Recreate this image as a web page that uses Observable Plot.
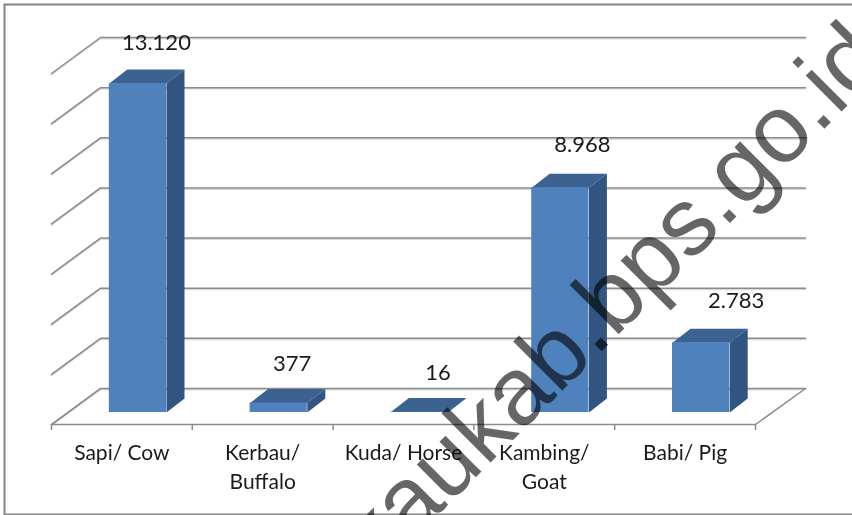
<!DOCTYPE html>
<html><head><meta charset="utf-8">
<style>html,body{margin:0;padding:0;background:#fff}svg{display:block;filter:blur(0.45px)}</style>
<script src="https://cdn.jsdelivr.net/npm/d3@7"></script>
<script src="https://cdn.jsdelivr.net/npm/@observablehq/plot@0.6"></script>
</head><body><div id="chart"></div>
<script>
const categories = ["Sapi/ Cow", "Kerbau/\nBuffalo", "Kuda/ Horse", "Kambing/\nGoat", "Babi/ Pig"];
const values = [13120, 377, 16, 8968, 2783];
const valueLabels = ["13.120", "377", "16", "8.968", "2.783"];
const yTicks = [0, 2000, 4000, 6000, 8000, 10000, 12000, 14000];
const watermark = "kaukab.bps.go.id";

// scale factors and oblique projection helpers (pixels to data units)
const W = 852, H = 515;
const xR = [51, 755], yR = [412, 61], yMax = 14000;
const ux = (xR[1] - xR[0]) / 5, uy = yMax / (yR[0] - yR[1]);
const ox = p => p / ux, oy = p => p * uy;

const bars = values.map((v, i) => ({i, v, label: valueLabels[i], c: i + 0.5 + ox(16)}));
const hw = ox(28.6), dX = ox(18), dY = oy(14);
const poly = (id, pts) => pts.map(([x, y]) => ({id, x, y}));
const sides = bars.flatMap(b => poly(b.i, [[b.c + hw, 0], [b.c + hw + dX, dY], [b.c + hw + dX, b.v + dY], [b.c + hw, b.v]]));
const tops = bars.flatMap(b => poly(b.i, [[b.c - hw, b.v], [b.c + hw, b.v], [b.c + hw + dX, b.v + dY], [b.c - hw + dX, b.v + dY]]));

const backL = ox(49), backR = 5 + ox(50), frontY = oy(-12), backY = oy(24);
const wall = yTicks.flatMap(v => poly(v, [[0, v + frontY], [backL, v + backY], [backR, v + backY]]));
const floorLine = poly("f", [[backL, backY], [0, frontY], [5, frontY], [backR, backY]]);

const nudgeX = [ox(18.5), ox(13.5), ox(18.5), ox(22), ox(35)];
const nudgeY = [oy(41), oy(39), oy(39), oy(43), oy(42)];
const font = "Lato, Carlito, Calibri, sans-serif";
const gridColor = "#8b8b8b";

const chart = Plot.plot({
  width: W, height: H,
  marginTop: 0, marginLeft: 0, marginRight: 0, marginBottom: 91,
  style: {background: "#fff", fontFamily: font},
  x: {domain: [0, 5], range: xR},
  y: {domain: [0, yMax], range: yR, axis: null},
  marks: [
    Plot.frame({stroke: "#868686", strokeWidth: 2, insetTop: 4, insetLeft: 4, insetRight: -6, insetBottom: -90}),
    Plot.line(wall, {x: "x", y: "y", z: "id", stroke: "#d9d9d9", strokeWidth: 1.5, dy: 1.2}),
    Plot.line(wall, {x: "x", y: "y", z: "id", stroke: gridColor, strokeWidth: 1.5}),
    Plot.line(floorLine, {x: "x", y: "y", stroke: gridColor, strokeWidth: 1.5}),
    Plot.axisX({ticks: [0, 1, 2, 3, 4, 5], tickFormat: () => "", tickSize: 6, stroke: gridColor, strokeWidth: 1.5, label: null}),
    Plot.axisX({ticks: [0.5, 1.5, 2.5, 3.5, 4.5], tickFormat: d => categories[Math.floor(d)], tickSize: 0, tickPadding: 15, fontSize: 21, lineHeight: 1.38, fill: "#1a1a1a", label: null}),
    Plot.line(sides, {x: "x", y: "y", z: "id", fill: "#325480", stroke: null}),
    Plot.line(tops, {x: "x", y: "y", z: "id", fill: "#3b6290", stroke: null}),
    Plot.rectY(bars, {x1: b => b.c - hw, x2: b => b.c + hw, y1: 0, y2: "v", fill: "#4f81bd"}),
    Plot.text(bars, {x: (b) => b.c + nudgeX[b.i], y: (b) => b.v + nudgeY[b.i], text: "label", fontSize: 22, fill: "#1a1a1a"}),
    Plot.text([watermark], {
      x: () => 5.80, y: () => 14798, text: d => d, rotate: -45, textAnchor: "end",
      fontFamily: "Liberation Sans, Arial, sans-serif", fontSize: 96, fill: "#000", fillOpacity: 0.6
    })
  ]
});
document.getElementById("chart").append(chart);
</script></body></html>
